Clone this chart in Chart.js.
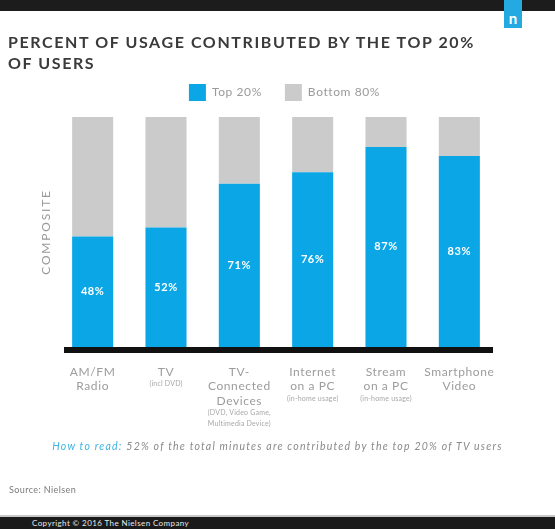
<!DOCTYPE html>
<html>
<head>
<meta charset="utf-8">
<script src="https://cdn.jsdelivr.net/npm/chart.js@4/dist/chart.umd.min.js"></script>
<style>
  html, body { margin: 0; padding: 0; background: #fff; }
  #wrap { position: relative; width: 555px; height: 529px; overflow: hidden; font-family: Lato, "Open Sans", sans-serif; }
  #c { position: absolute; left: 0; top: 0; }
  .topbar { position: absolute; left: 0; top: 0; width: 555px; height: 11px; background: #1c1c1c; }
  .logo { position: absolute; left: 504px; top: 0; width: 18px; height: 28px; background: #25a9e1; color: #fff; font: bold 15px Lato, sans-serif; text-align: center; line-height: 36px; }
  .title { position: absolute; left: 8px; top: 31px; color: #3a3a3a; font: 700 16px Lato, sans-serif; letter-spacing: 1.6px; line-height: 21px; white-space: nowrap; }
  .howto { position: absolute; left: 0; width: 555px; top: 440px; text-align: center; font: italic 10.5px Lato, sans-serif; color: #8a8a8a; letter-spacing: 1.2px; white-space: nowrap; }
  .howto b { font-weight: normal; color: #3db4e2; }
  .source { position: absolute; left: 9px; top: 484px; font: 9px Lato, sans-serif; color: #7a7a7a; letter-spacing: 0.4px; }
  .botline { position: absolute; left: 0; top: 515px; width: 555px; height: 2px; background: #c8c8c8; }
  .botbar { position: absolute; left: 0; top: 517px; width: 555px; height: 12px; background: #1a1a1a; }
  .copy { position: absolute; left: 32px; top: 518px; font: 8px Lato, sans-serif; color: #e8e8e8; letter-spacing: 0.4px; }
</style>
</head>
<body>
<div id="wrap">
  <canvas id="c" width="555" height="529"></canvas>
  <div class="topbar"></div>
  <div class="logo">n</div>
  <div class="title">PERCENT OF USAGE CONTRIBUTED BY THE TOP 20%<br>OF USERS</div>
  <div class="howto"><b>How to read:</b> 52% of the total minutes are contributed by the top 20% of TV users</div>
  <div class="source">Source: Nielsen</div>
  <div class="botline"></div>
  <div class="botbar"></div>
  <div class="copy">Copyright © 2016 The Nielsen Company</div>
</div>
<script>
// ---- data ----
const categories = [
  ["AM/FM", "Radio"],
  ["TV"],
  ["TV-", "Connected", "Devices"],
  ["Internet", "on a PC"],
  ["Stream", "on a PC"],
  ["Smartphone", "Video"]
];
const categoryNotes = [
  [],
  ["(incl DVD)"],
  ["(DVD, Video Game,", "Multimedia Device)"],
  ["(in-home usage)"],
  ["(in-home usage)"],
  []
];
const top20 = [48, 52, 71, 76, 87, 83];
const bottom80 = [52, 48, 29, 24, 13, 17];
const seriesNames = ["Top 20%", "Bottom 80%"];
const yTitle = "COMPOSITE";

const BLUE = "#0ba6e6";
const GRAY = "#cbcbcb";

const spacingPlugin = {
  id: 'spacing',
  beforeUpdate(chart) { chart.ctx.letterSpacing = '0.6px'; },
  afterLayout(chart) {
    const y = chart.scales.y;
    if (y && !y._lsWrapped) {
      const orig = y.drawTitle;
      y.drawTitle = function () {
        const c = this.ctx;
        const prev = c.letterSpacing;
        c.letterSpacing = '1.8px';
        orig.apply(this, arguments);
        c.letterSpacing = prev;
      };
      y._lsWrapped = true;
    }
  }
};

const legendGap = {
  id: 'legendGap',
  afterInit(chart) {
    const lg = chart.legend;
    const origFit = lg.fit;
    lg.fit = function () { origFit.call(this); this.height += 6; };
  },
  afterLayout(chart) {
    chart.legend.left += 17;
    chart.legend.right += 17;
  }
};

const valueLabels = {
  id: 'valueLabels',
  afterDatasetsDraw(chart) {
    const ctx = chart.ctx;
    const meta = chart.getDatasetMeta(0);
    ctx.save();
    ctx.fillStyle = "#ffffff";
    ctx.font = "bold 11px Lato, sans-serif";
    ctx.textAlign = "center";
    ctx.textBaseline = "middle";
    meta.data.forEach((bar, i) => {
      ctx.fillText(chart.data.datasets[0].data[i] + "%", bar.x, (bar.y + bar.base) / 2);
    });
    // axis line
    const a = chart.chartArea;
    ctx.fillStyle = "#111";
    ctx.fillRect(a.left + 8, a.bottom, a.right - a.left - 11, 6);
    ctx.restore();
  }
};

const notesPlugin = {
  id: 'notes',
  afterDraw(chart) {
    const ctx = chart.ctx;
    const xs = chart.scales.x;
    ctx.save();
    ctx.fillStyle = "#a8a8a8";
    ctx.font = "7px Lato, sans-serif";
    ctx.letterSpacing = '0.2px';
    ctx.textAlign = "center";
    ctx.textBaseline = "middle";
    categoryNotes.forEach((notes, i) => {
      const x = xs.getPixelForValue(i);
      const lastMain = 372 + (categories[i].length - 1) * 14.5;
      notes.forEach((t, j) => ctx.fillText(t, x, lastMain + 12 + j * 11));
    });
    ctx.restore();
  }
};

new Chart(document.getElementById('c'), {
  type: 'bar',
  data: {
    labels: categories,
    datasets: [
      { label: seriesNames[0], data: top20, backgroundColor: BLUE, borderWidth: 0 },
      { label: seriesNames[1], data: bottom80, backgroundColor: GRAY, borderWidth: 0 }
    ]
  },
  options: {
    responsive: false,
    animation: false,
    events: [],
    layout: { padding: { top: 61, left: 39, right: 59, bottom: 82 } },
    datasets: { bar: { categoryPercentage: 1, barPercentage: 0.56 } },
    plugins: {
      legend: {
        position: 'top',
        labels: {
          boxWidth: 17, boxHeight: 17, padding: 23,
          color: "#9a9a9a",
          font: { family: "Lato, sans-serif", size: 12 }
        }
      },
      tooltip: { enabled: false }
    },
    scales: {
      x: {
        stacked: true,
        grid: { display: false, drawTicks: false },
        border: { display: false },
        ticks: {
          color: "#9c9c9c",
          font: { family: "Lato, sans-serif", size: 12, lineHeight: 1.2 },
          padding: 18,
          maxRotation: 0,
          autoSkip: false
        },
        afterFit(s) { s.height = 100; }
      },
      y: {
        stacked: true,
        min: 0, max: 100,
        grid: { display: false },
        border: { display: false },
        ticks: { display: false },
        title: {
          display: true, text: yTitle, color: "#9a9a9a",
          font: { family: "Lato, sans-serif", size: 12 }, padding: 0
        },
        afterFit(s) { s.width = 17; }
      }
    }
  },
  plugins: [spacingPlugin, legendGap, valueLabels, notesPlugin]
});
</script>
</body>
</html>
